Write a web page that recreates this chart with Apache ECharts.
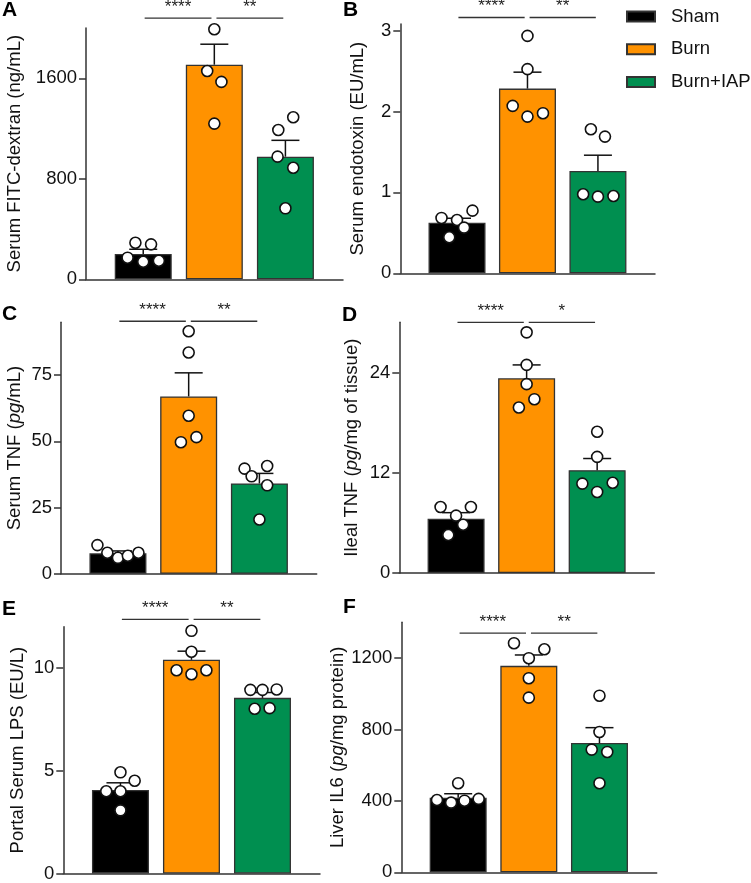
<!DOCTYPE html>
<html><head><meta charset="utf-8">
<script src="https://cdn.jsdelivr.net/npm/echarts@6/dist/echarts.min.js"></script>
<style>html,body{margin:0;padding:0;background:#fff}#c{width:751px;height:883px}</style>
</head><body><div id="c"></div>
<script>
// ---------- DATA ----------
const groups = ['Sham', 'Burn', 'Burn+IAP'];
const panelLetters = ['A', 'B', 'C', 'D', 'E', 'F'];
const yNames = [
  'Serum FITC-dextran (ng/mL)',
  'Serum endotoxin (EU/mL)',
  'Serum TNF ({i|pg}/mL)',
  'Ileal TNF ({i|pg}/mg of tissue)',
  'Portal Serum LPS (EU/L)',
  'Liver IL6 ({i|pg}/mg protein)'
];
// bar heights (mean) and SEM per panel
const meanA = [201, 1708, 976],   semA = [38, 163, 130];
const meanB = [0.625, 2.282, 1.265], semB = [0.055, 0.203, 0.194];
const meanC = [7.7, 67.0, 34.1],  semC = [0.9, 8.9, 3.8];
const meanD = [6.5, 23.3, 12.3],  semD = [0.72, 1.6, 1.4];
const meanE = [4.06, 10.39, 8.54], semE = [0.35, 0.42, 0.26];
const meanF = [418, 1156, 724],   semF = [22, 61, 86];
// individual points per group
const dotsA = [[291, 278, 172, 140, 148], [1990, 1658, 1571, 1239], [1290, 1188, 976, 888, 565]];
const dotsB = [[0.684, 0.659, 0.774, 0.564, 0.445], [2.933, 2.522, 2.068, 1.936, 1.978], [1.78, 1.689, 0.977, 0.947, 0.955]];
const dotsC = [[10.8, 7.9, 6.0, 6.8, 7.9], [91.6, 83.6, 59.7, 51.6, 49.7], [39.7, 40.7, 36.8, 33.4, 20.5]];
const dotsD = [[7.9, 7.9, 6.86, 5.78, 4.55], [28.8, 24.9, 22.6, 20.8, 19.8], [16.9, 13.9, 10.7, 10.8, 9.7]];
const dotsE = [[4.92, 4.51, 4.0, 4.0, 3.07], [11.8, 10.78, 9.88, 9.69, 9.88], [8.93, 8.93, 8.95, 8.01, 8.04]];
const dotsF = [[499, 405, 390, 401, 411], [1283, 1249, 1199, 1087, 978], [989, 786, 687, 674, 499]];
// horizontal jitter of points (in group units)
const jitA = [[-0.11, 0.11, -0.22, 0, 0.22], [0, -0.1, 0.1, 0], [0.11, -0.1, -0.11, 0.11, 0]];
const jitB = [[-0.22, 0, 0.22, 0.1, -0.11], [0, 0, -0.21, 0, 0.22], [-0.1, 0.1, -0.21, 0, 0.22]];
const jitC = [[-0.29, -0.15, 0, 0.14, 0.29], [0, 0, 0, 0.11, -0.11], [-0.21, 0.11, -0.11, 0.11, 0]];
const jitD = [[-0.22, 0.21, 0, 0.1, -0.11], [0, 0, 0, 0.11, -0.11], [0, 0, -0.21, 0.22, 0]];
const jitE = [[0, 0.2, -0.2, 0, 0], [0, 0, -0.21, 0, 0.21], [-0.17, 0, 0.2, -0.11, 0.1]];
const jitF = [[0, -0.3, -0.1, 0.09, 0.29], [-0.21, 0.22, 0, 0, 0], [0, 0, -0.11, 0.11, 0]];
// axis tick labels
const ticksA = [0, 800, 1600];
const ticksB = [0, 1, 2, 3];
const ticksC = [0, 25, 50, 75];
const ticksD = [0, 12, 24];
const ticksE = [0, 5, 10];
const ticksF = [0, 400, 800, 1200];
const yMax = [2000, 3.08, 95, 30, 12, 1400];
// significance brackets: level (y value) and stars
const bracketY = [2078, 3.16, 95.4, 30, 12.36, 1339];
const starsA = ['****', '**'], starsB = ['****', '**'], starsC = ['****', '**'];
const starsD = ['****', '*'], starsE = ['****', '**'], starsF = ['****', '**'];

// ---------- LAYOUT / STYLE ----------
const colors = ['#000000', '#FF9200', '#008F50'];
const grids = [
  {left: 86, top: 28, width: 257, height: 251.3},
  {left: 400.3, top: 24, width: 254.7, height: 249.3},
  {left: 61, top: 322.3, width: 255.7, height: 251.4},
  {left: 399.3, top: 322.3, width: 255, height: 250.7},
  {left: 63.3, top: 626.7, width: 256.7, height: 248.6},
  {left: 401.3, top: 622.3, width: 255.4, height: 250}
];
const nameGaps = [62, 33, 37, 38, 36, 53];
const letterPos = [[2, 0], [343, 0], [2, 304], [342, 305], [2, 599], [343, 597]];
const FONT = '"Liberation Sans", Arial, Helvetica, sans-serif';
const AX = '#333';

const panels = [
  [meanA, semA, dotsA, jitA, ticksA, starsA],
  [meanB, semB, dotsB, jitB, ticksB, starsB],
  [meanC, semC, dotsC, jitC, ticksC, starsC],
  [meanD, semD, dotsD, jitD, ticksD, starsD],
  [meanE, semE, dotsE, jitE, ticksE, starsE],
  [meanF, semF, dotsF, jitF, ticksF, starsF]
];

const xAxis = [], yAxis = [], series = [], title = [];
panels.forEach((p, i) => {
  const [mean, sem, dots, jit, ticks, stars] = p;
  xAxis.push({
    type: 'value', gridIndex: i, min: 0.195, max: 3.81,
    axisLine: {show: true, onZero: false, lineStyle: {color: AX, width: 1.5}},
    axisTick: {show: false}, axisLabel: {show: false}, splitLine: {show: false}
  });
  yAxis.push({
    type: 'value', gridIndex: i, min: 0, max: yMax[i],
    axisLine: {show: true, lineStyle: {color: AX, width: 1.5}},
    axisTick: {show: true, length: 7, customValues: ticks, lineStyle: {color: AX, width: 1.5}},
    axisLabel: {customValues: ticks, fontSize: 18.5, color: '#111', margin: 9, fontFamily: FONT,
      formatter: v => String(v)},
    splitLine: {show: false},
    name: yNames[i], nameLocation: 'middle', nameRotate: 90, nameGap: nameGaps[i],
    nameTextStyle: {fontSize: 18.5, color: '#111', fontFamily: FONT, padding: [0, 0, 0, 0],
      rich: {i: {fontSize: 18.5, fontStyle: 'italic', color: '#111', fontFamily: FONT}}}
  });
  title.push({text: panelLetters[i], left: letterPos[i][0], top: letterPos[i][1], padding: 0,
    textStyle: {fontSize: 21, fontWeight: 900, color: '#000', fontFamily: FONT}});
  // bars
  groups.forEach((g, k) => {
    series.push({
      type: 'bar', name: g, xAxisIndex: i, yAxisIndex: i,
      data: [[k + 1, mean[k]]], barWidth: 57, barGap: '-100%',
      itemStyle: {color: colors[k], borderColor: AX, borderWidth: 1.3},
      z: 2, silent: true
    });
  });
  // error bars
  series.push({
    type: 'custom', xAxisIndex: i, yAxisIndex: i, z: 3, silent: true,
    data: mean.map((m, k) => [k + 1, m, m + sem[k]]),
    encode: {x: 0, y: [1, 2]},
    renderItem: (params, api) => {
      const x = api.value(0);
      const p0 = api.coord([x, api.value(1)]), p1 = api.coord([x, api.value(2)]);
      const st = {stroke: '#111', lineWidth: 1.5};
      return {type: 'group', children: [
        {type: 'line', shape: {x1: p0[0], y1: p0[1], x2: p1[0], y2: p1[1]}, style: st},
        {type: 'line', shape: {x1: p1[0] - 14, y1: p1[1], x2: p1[0] + 14, y2: p1[1]}, style: st}
      ]};
    }
  });
  // points
  const pts = [];
  dots.forEach((arr, k) => arr.forEach((v, j) => pts.push([k + 1 + jit[k][j], v])));
  series.push({
    type: 'scatter', xAxisIndex: i, yAxisIndex: i, z: 4, silent: true, clip: false,
    data: pts, symbol: 'circle', symbolSize: 11,
    itemStyle: {color: '#fff', borderColor: '#111', borderWidth: 1.6, opacity: 1}
  });
  // significance brackets
  series.push({
    type: 'custom', xAxisIndex: i, yAxisIndex: i, z: 5, silent: true, clip: false,
    data: [[1.02, 1.96, bracketY[i]], [2.03, 2.97, bracketY[i]]],
    encode: {x: [0, 1], y: 2},
    renderItem: (params, api) => {
      const a = api.coord([api.value(0), api.value(2)]);
      const b = api.coord([api.value(1), api.value(2)]);
      return {type: 'group', children: [
        {type: 'line', shape: {x1: a[0], y1: a[1], x2: b[0], y2: b[1]}, style: {stroke: AX, lineWidth: 1.3}},
        {type: 'text', x: (a[0] + b[0]) / 2, y: a[1] - 2.5,
          style: {text: stars[params.dataIndex], fontSize: 17, fontFamily: FONT, fill: '#222',
            align: 'center', verticalAlign: 'bottom'}}
      ]};
    }
  });
});

const chart = echarts.init(document.getElementById('c'), null, {renderer: 'canvas'});
chart.setOption({
  animation: false,
  backgroundColor: '#fff',
  title: title,
  grid: grids.map(g => Object.assign({containLabel: false}, g)),
  xAxis: xAxis, yAxis: yAxis,
  legend: {
    data: groups, orient: 'vertical', left: 626, top: 7, padding: 0,
    itemWidth: 28, itemHeight: 10, itemGap: 13.7, icon: 'rect', selectedMode: false,
    textStyle: {fontSize: 18.5, color: '#111', fontFamily: FONT, padding: [0, 0, 0, 11]}
  },
  series: series
});
</script></body></html>
